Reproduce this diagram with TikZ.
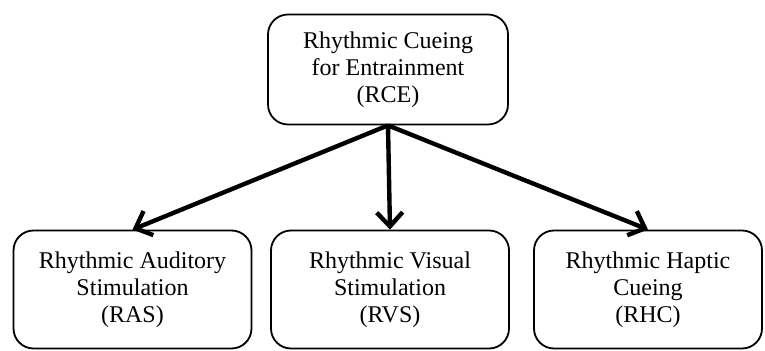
\documentclass[tikz,border=0pt]{standalone}
\usepackage{fontspec}
\setmainfont{Liberation Serif}
\usetikzlibrary{arrows.meta, positioning}
\tikzset{
  cbox/.style={draw=black, line width=0.9pt, rounded corners=10pt,
               align=center, inner sep=4pt,
               font=\fontsize{12}{13.6}\selectfont},
  arr/.style={-{Straight Barb[length=7pt, width=13pt]}, line width=2.2pt, black},
}
\begin{document}
\begin{tikzpicture}[x=0.5pt, y=-0.5pt,
    topbox/.style={cbox, minimum width=120pt, minimum height=55pt},
    subbox/.style={cbox, minimum width=119pt, minimum height=59pt}]
  \useasboundingbox (0,0) rectangle (765,351);
  \node[topbox] (rce) at (388,69.5) {Rhythmic Cueing\\for Entrainment\\(RCE)};
  \node[subbox] (ras) at (132.5,289.5) {Rhythmic Auditory\\Stimulation\\(RAS)};
  \node[subbox] (rvs) at (390,289.5) {Rhythmic Visual\\Stimulation\\(RVS)};
  \node[subbox, minimum width=114pt] (rhc) at (648,289.5) {Rhythmic Haptic\\Cueing\\(RHC)};
  \draw[arr] (rce.south) -- (ras.north);
  \draw[arr] (rce.south) -- (rvs.north);
  \draw[arr] (rce.south) -- (rhc.north);
\end{tikzpicture}
\end{document}
